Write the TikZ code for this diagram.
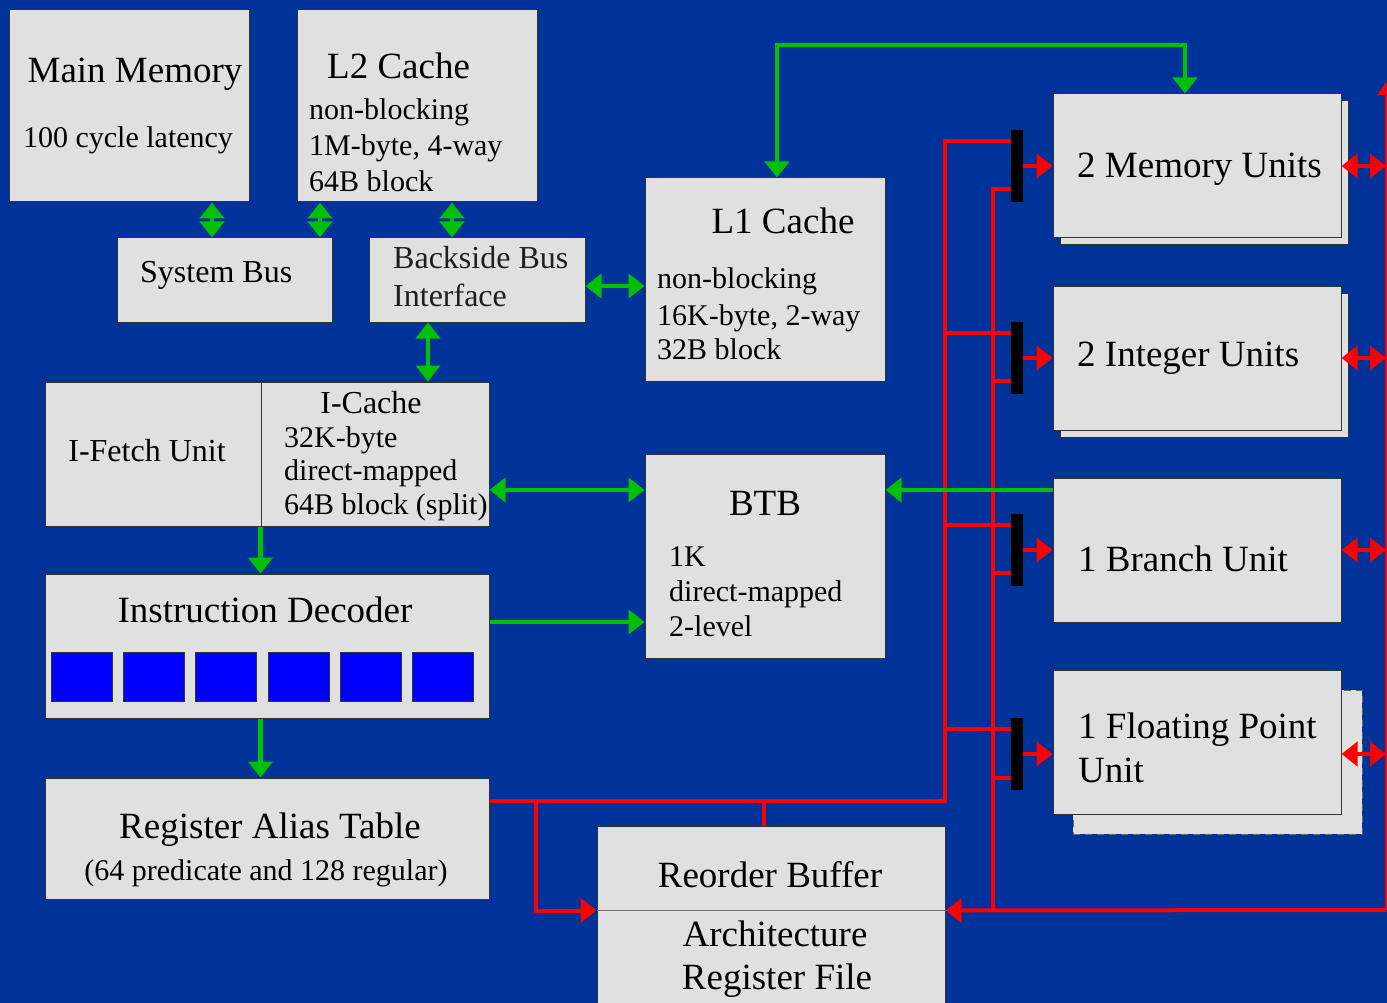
\documentclass[tikz,border=0pt]{standalone}
\usepackage{fontspec}
\setmainfont{Liberation Serif}
\usepackage{tikz}
\usetikzlibrary{arrows.meta}

\definecolor{slideblue}{RGB}{0,51,153}
\definecolor{boxgray}{RGB}{224,224,224}
\definecolor{busgreen}{RGB}{0,192,0}
\definecolor{busred}{RGB}{255,0,0}
\definecolor{slotblue}{RGB}{0,0,255}

\begin{document}
\begin{tikzpicture}[
x=1pt, y=-1pt,
>={Triangle[length=16pt,width=24pt]},
block/.style={rectangle,draw=black!80,fill=boxgray,line width=1pt,inner sep=0pt},
titlefont/.style={font=\fontsize{37}{40}\selectfont,inner sep=0pt},
midfont/.style={font=\fontsize{32}{36}\selectfont,inner sep=0pt},
bodyfont/.style={font=\fontsize{30}{34}\selectfont,inner sep=0pt},
gbus/.style={draw=busgreen,line width=4.5pt},
rbus/.style={draw=busred,line width=4pt},
rsbar/.style={rectangle,fill=black,minimum width=12pt,minimum height=72pt,inner sep=0pt},
slotbox/.style={rectangle,draw=black!80,fill=slotblue,line width=0.8pt,minimum width=61pt,minimum height=49pt,inner sep=0pt}
]

% Background
\useasboundingbox (0,0) rectangle (1387,1003);
\fill[slideblue] (0,0) rectangle (1387,1003);

% Memory hierarchy
\node[block,minimum width=240pt,minimum height=192pt] (mainmem) at (129,106) {};
\node[titlefont,anchor=base] (mainmemt) at (135,83) {Main Memory};
\node[bodyfont,anchor=base] (mainmemd) at (128,148) {100 cycle latency};

\node[block,minimum width=240pt,minimum height=192pt] (ltwo) at (417,106) {};
\node[titlefont,anchor=base west] (ltwot) at (327,79) {L2 Cache};
\node[bodyfont,anchor=base west] (ltwoa) at (309,120) {non-blocking};
\node[bodyfont,anchor=base west] (ltwob) at (309,156) {1M-byte, 4-way};
\node[bodyfont,anchor=base west] (ltwoc) at (309,192) {64B block};

\node[block,minimum width=215pt,minimum height=84pt] (sysbus) at (224.5,280) {};
\node[midfont,anchor=base west] (sysbust) at (140,282) {System Bus};

\node[block,minimum width=216pt,minimum height=84pt] (backside) at (477,280) {};
\node[midfont,anchor=base west,text=black!88] (backsidea) at (393,269) {Backside Bus};
\node[midfont,anchor=base west,text=black!88] (backsideb) at (393,306) {Interface};

\node[block,minimum width=240pt,minimum height=203pt] (lone) at (765,279.5) {};
\node[titlefont,anchor=base] (lonet) at (783,234) {L1 Cache};
\node[bodyfont,anchor=base west] (lonea) at (657,288) {non-blocking};
\node[bodyfont,anchor=base west] (loneb) at (657,325) {16K-byte, 2-way};
\node[bodyfont,anchor=base west] (lonec) at (657,359) {32B block};

% Front end
\node[block,minimum width=216pt,minimum height=144pt] (ifetch) at (153,454) {};
\node[midfont,anchor=base] (ifetcht) at (147,461) {I-Fetch Unit};

\node[block,minimum width=228pt,minimum height=144pt] (icache) at (375,454) {};
\node[midfont,anchor=base] (icachet) at (371,413) {I-Cache};
\node[bodyfont,anchor=base west] (icachea) at (284,447) {32K-byte};
\node[bodyfont,anchor=base west] (icacheb) at (284,480) {direct-mapped};
\node[bodyfont,anchor=base west] (icachec) at (284,514) {64B block (split)};

\node[block,minimum width=240pt,minimum height=204pt] (btb) at (765,556) {};
\node[titlefont,anchor=base] (btbt) at (765,515) {BTB};
\node[bodyfont,anchor=base west] (btba) at (669,566) {1K};
\node[bodyfont,anchor=base west] (btbb) at (669,601) {direct-mapped};
\node[bodyfont,anchor=base west] (btbc) at (669,636) {2-level};

\node[block,minimum width=444pt,minimum height=144pt] (decoder) at (267,646) {};
\node[titlefont,anchor=base] (decodert) at (265,622) {Instruction Decoder};
\foreach \i in {0,...,5}
  \node[slotbox] (slot\i) at (82.3+72.04*\i,677) {};

\node[block,minimum width=444pt,minimum height=121pt] (rat) at (267,838.5) {};
\node[titlefont,anchor=base] (ratt) at (270,838) {Register Alias Table};
\node[bodyfont,anchor=base] (ratd) at (266,880) {(64 predicate and 128 regular)};

\node[block,minimum width=348pt,minimum height=84pt] (rob) at (771,868) {};
\node[block,minimum width=348pt,minimum height=100pt] (arf) at (771,960) {};
\draw[black!55,line width=1.2pt] (rob.south west) -- (rob.south east);
\node[titlefont,anchor=base] (robt) at (770,887) {Reorder Buffer};
\node[titlefont,anchor=base] (arfa) at (775,946) {Architecture};
\node[titlefont,anchor=base] (arfb) at (777,989) {Register File};

% Execution units
\node[block,minimum width=288pt,minimum height=144pt] (memshadow) at (1204,173) {};
\node[block,minimum width=288pt,minimum height=144pt] (memunit) at (1197,166) {};
\node[titlefont,anchor=base west] (memunitt) at (1077,178) {2 Memory Units};

\node[block,minimum width=288pt,minimum height=144pt] (intshadow) at (1204,365) {};
\node[block,minimum width=288pt,minimum height=144pt] (intunit) at (1197,358) {};
\node[titlefont,anchor=base west] (intunitt) at (1077,366) {2 Integer Units};

\node[block,minimum width=288pt,minimum height=144pt] (brunit) at (1197,550) {};
\node[titlefont,anchor=base west] (brunitt) at (1078,571) {1 Branch Unit};

\node[block,draw=black!60,dashed,dash pattern=on 7pt off 5pt,minimum width=289pt,minimum height=144pt] (fpshadow) at (1217.5,762) {};
\node[block,minimum width=288pt,minimum height=144pt] (fpunit) at (1197,742) {};
\node[titlefont,anchor=base west] (fpunita) at (1078,738) {1 Floating Point};
\node[titlefont,anchor=base west] (fpunitb) at (1078,782) {Unit};

% Reservation bars
\node[rsbar] (bar1) at (1017,166) {};
\node[rsbar] (bar2) at (1017,358) {};
\node[rsbar] (bar3) at (1017,550) {};
\node[rsbar] (bar4) at (1017,754) {};

% Red buses
\coordinate (ratbus) at (536,801);
\coordinate (robtap) at (764,801);
\coordinate (retbus) at (1386,910);
\draw[rbus] (bar1.west |- 0,141) -| (945,801) -- (rat.east |- 0,801);
\draw[rbus] (945,333) -- (bar2.west |- 0,333);
\draw[rbus] (945,525) -- (bar3.west |- 0,525);
\draw[rbus] (945,729) -- (bar4.west |- 0,729);
\draw[rbus] (bar1.west |- 0,189) -| (993,910);
\draw[rbus] (993,381) -- (bar2.west |- 0,381);
\draw[rbus] (993,573) -- (bar3.west |- 0,573);
\draw[rbus] (993,778) -- (bar4.west |- 0,778);
\draw[rbus,->] (retbus) -- (rob.south east);
\draw[rbus,->] (ratbus) |- (rob.south west);
\draw[rbus] (robtap) -- (rob.north -| robtap);
\draw[busred,line width=1.5pt,-{Triangle[length=13pt,width=17pt]}] (retbus) -- (1386,82);

\foreach \b/\u in {bar1/memunit,bar2/intunit,bar3/brunit,bar4/fpunit}
  \draw[rbus,->] (\b.east) -- (\b.east -| \u.west);
\draw[rbus,<->] (memunit.east) -- (1386,166);
\draw[rbus,<->] (intunit.east) -- (1386,358);
\draw[rbus,<->] (brunit.east) -- (1386,550);
\draw[rbus,<->] (fpunit.east |- 0,754) -- (1386,754);

% Green paths
\draw[gbus,<->] (mainmem.south -| 212,0) -- (sysbus.north -| 212,0);
\draw[gbus,<->] (ltwo.south -| 320,0) -- (sysbus.north -| 320,0);
\draw[gbus,<->] (ltwo.south -| 452,0) -- (backside.north -| 452,0);
\draw[gbus,<->] (backside.south -| 428,0) -- (icache.north -| 428,0);
\draw[gbus,<->] (backside.east |- 0,286) -- (lone.west |- 0,286);
\draw[gbus,<->] (lone.north -| 777,0) |- (1185,45) -- (memunit.north -| 1185,0);
\draw[gbus,<->] (icache.east |- 0,490) -- (btb.west |- 0,490);
\draw[gbus,->] (decoder.east |- 0,622) -- (btb.west |- 0,622);
\draw[gbus,->] (brunit.west |- 0,490) -- (btb.east |- 0,490);
\draw[gbus,->] (icache.south west) -- (decoder.north -| icache.south west);
\draw[gbus,->] (decoder.south -| icache.south west) -- (rat.north -| icache.south west);

\end{tikzpicture}
\end{document}
